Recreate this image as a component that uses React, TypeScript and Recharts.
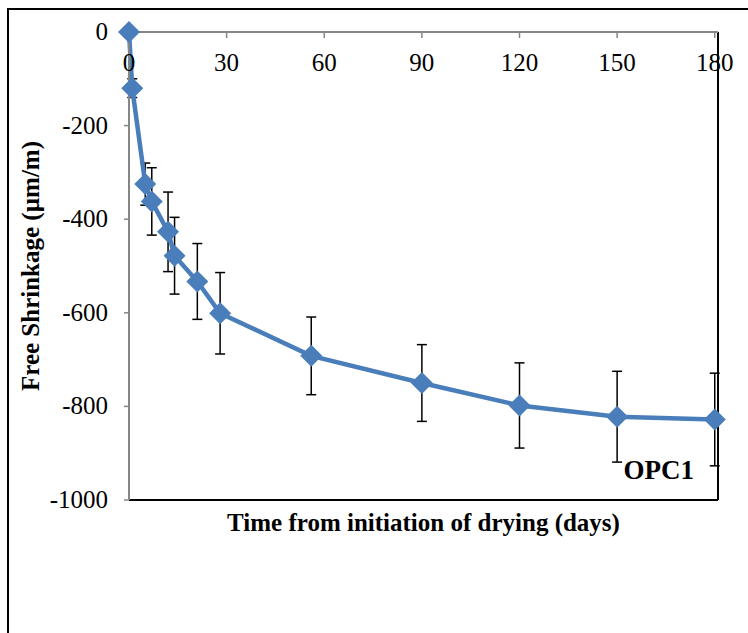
import React from "react";
import {
  LineChart,
  Line,
  XAxis,
  YAxis,
  ErrorBar,
  ReferenceLine,
} from "recharts";

// days of drying, mean free shrinkage (µm/m) and the +/- spread of the bars
const days = [0, 1, 5, 7, 12, 14, 21, 28, 56, 90, 120, 150, 180];
const shrinkage = [0, -120, -325, -362, -427, -478, -533, -601, -692, -750, -798, -822, -828];
const spread = [0, 20, 45, 72, 85, 82, 81, 87, 83, 82, 91, 97, 99];

const xTicks = [0, 30, 60, 90, 120, 150, 180];
const yTicks = [-1000, -800, -600, -400, -200, 0];

const data = days.map((d, i) => ({ day: d, value: shrinkage[i], err: spread[i] }));

const FONT = "Liberation Serif";
const BLUE = "#4A7EBB";
const GREY = "#868686";

function Diamond(props: any) {
  const { cx, cy } = props;
  if (cx == null || cy == null) return null;
  const r = 11;
  return (
    <polygon
      points={`${cx},${cy - r} ${cx + r},${cy} ${cx},${cy + r} ${cx - r},${cy}`}
      fill={BLUE}
      stroke="none"
    />
  );
}

// x labels sit under the axis line, which runs along the top of the plot
function XTick(props: any) {
  const { x, y, payload } = props;
  return (
    <text x={x} y={y + 16} textAnchor="middle" fontFamily={FONT} fontSize={25} fill="#000">
      {payload.value}
    </text>
  );
}

function YTick(props: any) {
  const { x, y, payload } = props;
  return (
    <text x={x} y={y} dy={8} textAnchor="end" fontFamily={FONT} fontSize={25} fill="#000">
      {payload.value}
    </text>
  );
}

export default function App() {
  return (
    <div style={{ width: 740, height: 617, fontFamily: FONT }}>
      {/* outer frame, cut off by the window on the right and bottom */}
      <div style={{ position: "fixed", left: 7, top: 8, width: 2, height: 640, background: "#000" }} />
      <div style={{ position: "fixed", left: 7, top: 8, width: 760, height: 2, background: "#000" }} />
      <div style={{ paddingLeft: 2, paddingTop: 2 }}>
        <LineChart
          width={738}
          height={615}
          data={data}
          margin={{ top: 22, right: 30, left: 0, bottom: 125 }}
          style={{ fontFamily: FONT }}
        >
          <XAxis
            dataKey="day"
            type="number"
            domain={[0, 181]}
            ticks={xTicks}
            orientation="top"
            mirror
            axisLine={{ stroke: GREY, strokeWidth: 2 }}
            tickLine={{ stroke: GREY, strokeWidth: 1.5 }}
            tickSize={6}
            tickMargin={17}
            tick={<XTick />}
          />
          <YAxis
            type="number"
            domain={[-1000, 0]}
            ticks={yTicks}
            width={119}
            axisLine={{ stroke: GREY, strokeWidth: 2 }}
            tickLine={{ stroke: GREY, strokeWidth: 1.5 }}
            tickSize={5}
            tickMargin={16}
            tick={<YTick />}
            label={{
              content: ({ viewBox }: any) => {
                const x = viewBox.x + 20;
                const y = viewBox.y + viewBox.height / 2;
                return (
                  <text
                    x={x}
                    y={y}
                    transform={`rotate(-90 ${x} ${y})`}
                    textAnchor="middle"
                    dominantBaseline="central"
                    fontFamily={FONT}
                    fontWeight="bold"
                    fontSize={25}
                    fill="#000"
                  >
                    Free Shrinkage (µm/m)
                  </text>
                );
              },
            }}
          />
          <ReferenceLine
            y={-1000}
            stroke="#000"
            strokeWidth={2}
            label={{
              content: ({ viewBox }: any) => (
                <text
                  x={viewBox.x + viewBox.width / 2}
                  y={viewBox.y + 31}
                  textAnchor="middle"
                  fontFamily={FONT}
                  fontWeight="bold"
                  fontSize={25}
                  fill="#000"
                >
                  Time from initiation of drying (days)
                </text>
              ),
            }}
          />
          <ReferenceLine
            x={181}
            stroke="#000"
            strokeWidth={2}
            label={{
              content: ({ viewBox }: any) => (
                <text
                  x={viewBox.x - 24}
                  y={viewBox.y + viewBox.height - 21}
                  textAnchor="end"
                  fontFamily={FONT}
                  fontWeight="bold"
                  fontSize={27}
                  fill="#000"
                >
                  OPC1
                </text>
              ),
            }}
          />
          <Line
            dataKey="value"
            stroke={BLUE}
            strokeWidth={4.5}
            dot={<Diamond />}
            activeDot={false}
            isAnimationActive={false}
          >
            <ErrorBar dataKey="err" direction="y" width={5} stroke="#000" strokeWidth={1.5} />
          </Line>
        </LineChart>
      </div>
    </div>
  );
}
